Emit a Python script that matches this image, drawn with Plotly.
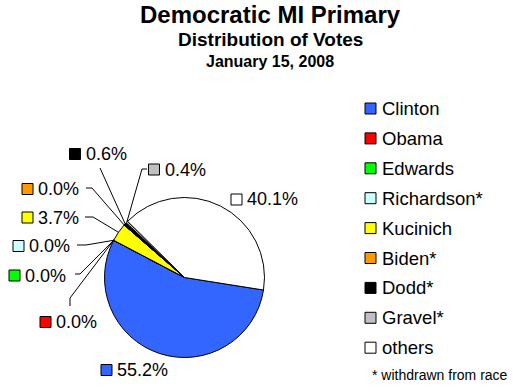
import math
import plotly.graph_objects as go

# ---------------- data ----------------
candidates = ["Clinton", "Obama", "Edwards", "Richardson*", "Kucinich",
              "Biden*", "Dodd*", "Gravel*", "others"]
shares = [55.2, 0.0, 0.0, 0.0, 3.7, 0.0, 0.6, 0.4, 40.1]
colors = ["#3366FF", "#FF0000", "#00FF00", "#CCFFFF", "#FFFF00",
          "#FF9900", "#000000", "#C0C0C0", "#FFFFFF"]
title_lines = ["Democratic MI Primary", "Distribution of Votes", "January 15, 2008"]
footnote = "* withdrawn from race"

# ---------------- layout constants (pixels) ----------------
W, H = 530, 391
CX, CY, R = 184.5, 277.5, 80.0
ROT = 99  # degrees clockwise from 12 o'clock where first slice starts
FONT = "Arial, Liberation Sans, sans-serif"
SQ = 11

def px(x):
    return x / W

def py(y):
    return 1 - y / H

fig = go.Figure(go.Pie(
    labels=candidates, values=shares, sort=False, direction="clockwise",
    rotation=ROT, textinfo="none", hoverinfo="label+percent",
    marker=dict(colors=colors, line=dict(color="#000000", width=1)),
    domain=dict(x=[px(CX - R), px(CX + R)], y=[py(CY + R), py(CY - R)]),
    showlegend=False,
))

shapes = []
annotations = []

# titles
for text, y, size in zip(title_lines, [15, 39, 61], [24, 19, 16]):
    annotations.append(dict(text=f"<b>{text}</b>", x=px(270), y=py(y), xref="paper",
                            yref="paper", xanchor="center", yanchor="middle",
                            showarrow=False, font=dict(family=FONT, size=size, color="black")))

# slice mid angles computed from the data
total = sum(shares)
mid_angles = []
acc = ROT
for v in shares:
    span = 360 * v / total
    mid_angles.append(acc + span / 2)
    acc += span

def edge_point(i):
    a = math.radians(mid_angles[i])
    return (CX + R * math.sin(a), CY - R * math.cos(a))

# label placement: (square left x, center y, leader points before the pie edge)
label_pos = {
    0: (101, 370, None),
    1: (40, 322, [(70, 306), (70, 298)]),
    2: (9, 275.5, [(75, 274), (80, 274)]),
    3: (13, 246, [(77, 245), (86, 245)]),
    4: (22, 217.5, [(85, 217), (93, 217)]),
    5: (22, 189, [(86, 188), (92, 188)]),
    6: (69.5, 154, [(100, 168)]),
    7: (148.5, 169.5, [(147, 169), (142, 169)]),
    8: (231, 199.5, None),
}

for i, v in enumerate(shares):
    sx, cy, pts = label_pos[i]
    shapes.append(dict(type="rect", xref="paper", yref="paper",
                       x0=px(sx), x1=px(sx + SQ), y0=py(cy + SQ / 2), y1=py(cy - SQ / 2),
                       fillcolor=colors[i], line=dict(color="black", width=1)))
    annotations.append(dict(text=f"{v:.1f}%", x=px(sx + SQ + 3), y=py(cy), xref="paper",
                            yref="paper", xanchor="left", yanchor="middle", showarrow=False,
                            font=dict(family=FONT, size=18, color="black")))
    if pts:
        full = pts + [edge_point(i)]
        path = "M " + " L ".join(f"{px(x):.5f},{py(y):.5f}" for x, y in full)
        shapes.append(dict(type="path", xref="paper", yref="paper", path=path,
                           line=dict(color="black", width=1)))

# manual legend
LX, LY0, LDY = 365, 108.5, 29.9
for i, name in enumerate(candidates):
    cy = LY0 + i * LDY
    shapes.append(dict(type="rect", xref="paper", yref="paper",
                       x0=px(LX), x1=px(LX + SQ), y0=py(cy + SQ / 2), y1=py(cy - SQ / 2),
                       fillcolor=colors[i], line=dict(color="black", width=1)))
    annotations.append(dict(text=name, x=px(LX + SQ + 4), y=py(cy), xref="paper",
                            yref="paper", xanchor="left", yanchor="middle", showarrow=False,
                            font=dict(family=FONT, size=18.5, color="black")))
annotations.append(dict(text=footnote, x=px(439.5), y=py(375), xref="paper", yref="paper",
                        xanchor="center", yanchor="middle", showarrow=False,
                        font=dict(family=FONT, size=14, color="black")))

fig.update_layout(
    width=W, height=H, margin=dict(l=0, r=0, t=0, b=0),
    paper_bgcolor="white", plot_bgcolor="white",
    shapes=shapes, annotations=annotations,
)

fig.write_html("out.html", config={"displayModeBar": False},
               post_script="document.body.style.margin='0px';")
